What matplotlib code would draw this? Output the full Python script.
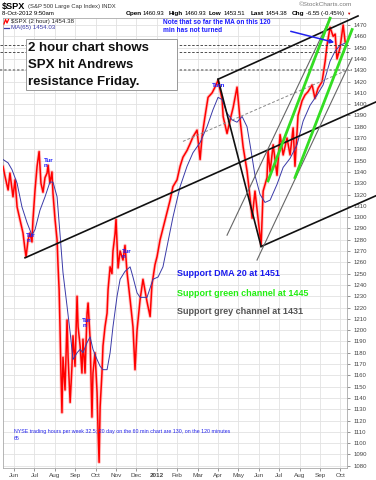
import matplotlib
matplotlib.use('Agg')
import matplotlib.pyplot as plt
from matplotlib.lines import Line2D
from matplotlib.patches import Rectangle

plt.rcParams['font.family'] = ['Liberation Sans', 'DejaVu Sans']

# x values are months counted from 1 Jun 2011
month_labels = ['Jun', 'Jul', 'Aug', 'Sep', 'Oct', 'Nov', 'Dec', '2012', 'Feb', 'Mar',
                'Apr', 'May', 'Jun', 'Jul', 'Aug', 'Sep', 'Oct']
y_ticks = list(range(1080, 1471, 10))

# $SPX 2 hour price path
price_x = [-0.54, -0.44, -0.29, -0.20, -0.05, 0.05, 0.15, 0.29, 0.44, 0.54, 0.59, 0.69, 0.78, 0.88,
           0.93, 1.03, 1.13, 1.23, 1.32, 1.42, 1.52, 1.62, 1.67, 1.76, 1.86, 1.91, 2.01, 2.11,
           2.16, 2.21, 2.25, 2.30, 2.35, 2.40, 2.50, 2.60, 2.65, 2.75, 2.84, 2.89, 2.99, 3.09,
           3.14, 3.24, 3.33, 3.38, 3.48, 3.58, 3.63, 3.73, 3.82, 3.87, 3.97, 4.07, 4.12, 4.17,
           4.22, 4.31, 4.36, 4.46, 4.56, 4.61, 4.71, 4.80, 4.85, 4.95, 5.00, 5.10, 5.20, 5.34,
           5.44, 5.54, 5.69, 5.83, 5.93, 6.03, 6.18, 6.32, 6.52, 6.67, 6.76, 6.91, 7.01, 7.16,
           7.30, 7.50, 7.65, 7.79, 7.99, 8.14, 8.28, 8.48, 8.63, 8.77, 8.97, 9.12, 9.22, 9.36,
           9.51, 9.71, 9.85, 10.00, 10.20, 10.25, 10.44, 10.59, 10.74, 10.93, 11.08, 11.23, 11.42,
           11.57, 11.67, 11.81, 11.96, 12.11, 12.21, 12.40, 12.45, 12.55, 12.70, 12.89, 13.04,
           13.19, 13.38, 13.53, 13.68, 13.77, 13.92, 14.12, 14.26, 14.41, 14.61, 14.75, 14.90,
           15.10, 15.25, 15.34, 15.49, 15.64, 15.74, 15.83, 15.98, 16.13, 16.23]
price_y = [1345, 1336, 1324, 1339, 1318, 1333, 1309, 1298, 1286, 1271, 1265, 1280, 1286, 1278,
           1298, 1324, 1345, 1358, 1330, 1322, 1335, 1339, 1346, 1330, 1340, 1321, 1298, 1280,
           1256, 1236, 1206, 1162, 1127, 1176, 1147, 1209, 1176, 1136, 1168, 1195, 1168, 1230,
           1203, 1186, 1162, 1192, 1162, 1215, 1224, 1192, 1123, 1162, 1180, 1145, 1110, 1083,
           1132, 1162, 1186, 1203, 1215, 1236, 1256, 1250, 1270, 1285, 1298, 1255, 1270, 1262,
           1275, 1251, 1227, 1203, 1165, 1200, 1227, 1245, 1225, 1212, 1240, 1258, 1265, 1280,
           1290, 1304, 1315, 1327, 1333, 1345, 1353, 1359, 1365, 1371, 1377, 1351, 1372, 1389,
           1406, 1410, 1415, 1421, 1404, 1389, 1374, 1386, 1397, 1415, 1386, 1362, 1341,
           1317, 1299, 1323, 1299, 1275, 1323, 1335, 1359, 1340, 1364, 1337, 1373,
           1355, 1370, 1355, 1379, 1345, 1390, 1403, 1408, 1411, 1417, 1405, 1414,
           1420, 1438, 1452, 1468, 1460, 1462, 1440, 1450, 1470, 1455]

# MA(65)
ma_x = [-0.54, -0.29, -0.10, 0.15, 0.39, 0.64, 0.88, 1.03, 1.27, 1.52, 1.76, 1.91, 2.11, 2.25,
        2.40, 2.60, 2.75, 2.89, 3.09, 3.24, 3.38, 3.58, 3.73, 3.87, 4.07, 4.22, 4.36, 4.56,
        4.71, 4.85, 5.05, 5.20, 5.44, 5.69, 5.83, 6.03, 6.18, 6.52, 6.81, 7.06, 7.30, 7.50,
        7.79, 8.14, 8.48, 8.77, 9.12, 9.46, 9.75, 10.00, 10.20, 10.44, 10.69, 10.93, 11.18,
        11.42, 11.57, 11.81, 12.06, 12.30, 12.55, 12.89, 13.19, 13.53, 13.87, 14.17, 14.51,
        14.85, 15.15, 15.49, 15.74, 15.98, 16.23]
ma_y = [1351, 1348, 1342, 1330, 1309, 1295, 1284, 1289, 1306, 1318, 1331, 1331, 1318, 1286,
        1251, 1221, 1198, 1174, 1180, 1183, 1180, 1189, 1194, 1183, 1174, 1168, 1165, 1165,
        1180, 1203, 1230, 1245, 1252, 1256, 1247, 1233, 1229, 1229, 1245, 1247, 1256, 1274,
        1300, 1327, 1345, 1357, 1366, 1380, 1395, 1406, 1404, 1392, 1386, 1384, 1389,
        1380, 1364, 1337, 1320, 1313, 1315, 1329, 1344, 1352, 1364, 1385, 1399,
        1408, 1417, 1438, 1447, 1452, 1454]

# drawn trend lines: (x0, y0, x1, y1)
black_lines = [(0.54, 1264, 17.75, 1402), (10.0, 1422, 16.86, 1478),
               (10.0, 1422, 12.11, 1274), (12.11, 1274, 17.75, 1319)]
grey_lines = [(10.44, 1284, 15.49, 1476), (11.91, 1262, 16.57, 1441)]
green_lines = [(12.45, 1332, 15.49, 1476), (13.77, 1335, 16.57, 1466)]
median_line = (8.28, 1367, 16.57, 1432)
dashed_levels = [1452, 1446]
dotted_level = 1430

# "Turn" marks: (x, y, text)
turn_marks = [(1.47, 1352, 'Tur\nn'), (0.6, 1286, 'Tur\nn'), (3.35, 1211, 'Tur\nn'),
              (5.27, 1272, 'Tur\nn'), (9.68, 1419, 'Turn')]

W, H = 376, 480
fig = plt.figure(figsize=(W / 100, H / 100), dpi=100)


def fx(x):
    return x / W


def fy(y):
    return 1 - y / H


ax = fig.add_axes([fx(3), fy(468), fx(347) - fx(3), (468 - 18) / H])
ax.set_xlim(-0.54, 16.32)
ax.set_ylim(1078, 1476.2)

ax.set_yticks(y_ticks)
ax.yaxis.tick_right()
ax.set_xticks(range(len(month_labels)))
ax.set_xticklabels(month_labels)
ax.get_xticklabels()[7].set_fontweight('bold')
ax.tick_params(axis='y', labelsize=4.3, length=2, width=0.4, pad=2.5, colors='#444444')
ax.tick_params(axis='x', labelsize=4.6, length=2, width=0.4, pad=1.5, colors='#444444')
ax.grid(color='#e2e2e2', lw=0.6)
ax.set_axisbelow(True)
for s in ax.spines.values():
    s.set_color('#aaaaaa')
    s.set_linewidth(0.6)

# price + MA
ax.plot(price_x, price_y, color='#ff9090', lw=2.4, alpha=0.5, zorder=2)
ax.plot(price_x, price_y, color='#ff0000', lw=1.1, zorder=3)
ax.plot(ma_x, ma_y, color='#3a3aa8', lw=0.7, zorder=4)

# levels
for lv in dashed_levels:
    ax.plot([-0.69, 16.47], [lv, lv], color='#333333', lw=0.6, ls=(0, (3, 2)), clip_on=False, zorder=5)
ax.plot([-0.69, 16.57], [dotted_level, dotted_level], color='#999999', lw=1.4, ls=(0, (1.2, 1)),
        clip_on=False, zorder=5)

x0, y0, x1, y1 = median_line
ax.plot([x0, x1], [y0, y1], color='#888888', lw=0.7, ls=(0, (3, 2)), zorder=5)
for x0, y0, x1, y1 in black_lines:
    ax.plot([x0, x1], [y0, y1], color='#111111', lw=1.2, clip_on=False, zorder=6)
for x0, y0, x1, y1 in grey_lines:
    ax.plot([x0, x1], [y0, y1], color='#666666', lw=0.8, clip_on=False, zorder=6)
for x0, y0, x1, y1 in green_lines:
    ax.plot([x0, x1], [y0, y1], color='#33dd22', lw=2.0, clip_on=False, zorder=6)

for tx, ty, t in turn_marks:
    ax.text(tx, ty, t, color='#1a1aff', fontsize=4.5, fontweight='bold', ha='left', va='top',
            linespacing=1.0, zorder=7)

ax.annotate('', xy=(15.83, 1454), xytext=(13.43, 1465), annotation_clip=False,
            arrowprops=dict(arrowstyle='-|>', color='#2222ee', lw=1.1, mutation_scale=6), zorder=8)

# header
fig.text(fx(2), fy(7), '\\$SPX', fontsize=6.6, fontweight='bold', va='center')
fig.text(fx(28), fy(6.5), '(S&P 500 Large Cap Index) INDX', fontsize=4.2, va='center', color='#333333')
fig.text(fx(352), fy(5), '\u00a9StockCharts.com', fontsize=4.6, va='center', ha='right', color='#777777')
fig.text(fx(2), fy(13.5), '8-Oct-2012 9:50am', fontsize=4.3, va='center')
header = [(126, 'Open', True), (143, '1460.93', False), (169, 'High', True), (185, '1460.93', False),
          (209, 'Low', True), (224, '1453.51', False), (251, 'Last', True), (266, '1454.38', False),
          (292, 'Chg', True), (306, '-6.55 (-0.45%)', False)]
for hx, t, b in header:
    fig.text(fx(hx), fy(13.5), t, fontsize=4.6 if b else 4.3, fontweight='bold' if b else 'normal',
             va='center')
fig.text(fx(346.5), fy(13.5), '\u25bc', fontsize=3.2, color='#cc0000', va='center')

# in-plot legend
fig.add_artist(Line2D([fx(4), fx(5.5), fx(7), fx(8.5)], [fy(24), fy(19.5), fy(23), fy(19.5)],
                      color='#ff0000', lw=0.9))
fig.text(fx(11), fy(21.5), '\\$SPX (2 hour) 1454.38', fontsize=4.4, va='center', color='#222222')
fig.add_artist(Line2D([fx(4), fx(9)], [fy(27.5), fy(27.5)], color='#3a3aa8', lw=0.9))
fig.text(fx(11), fy(27.5), 'MA(65) 1454.03', fontsize=4.4, va='center', color='#3a3aa8')

fig.text(fx(163), fy(23), 'Note that so far the MA on this 120', fontsize=4.7, fontweight='bold',
         color='#1a1aff', va='center')
fig.text(fx(163), fy(31), 'min has not turned', fontsize=4.7, fontweight='bold',
         color='#1a1aff', va='center')

# boxed comment
fig.add_artist(Rectangle((fx(26), fy(90)), fx(177) - fx(26), (90 - 39) / H, facecolor='white',
                         edgecolor='#999999', lw=0.7, zorder=10))
for ly, t in [(48, '2 hour chart shows'), (65, 'SPX hit Andrews'), (82, 'resistance Friday.')]:
    t_ = fig.text(fx(28), fy(ly), t, fontsize=9.5, fontweight='bold', va='center', color='#111111')
    t_.set_zorder(11)

fig.text(fx(177), fy(274), 'Support DMA 20 at 1451', fontsize=6.5, fontweight='bold',
         color='#1a1aee', va='center')
fig.text(fx(177), fy(293), 'Support green channel at 1445', fontsize=6.5, fontweight='bold',
         color='#22ee11', va='center')
fig.text(fx(177), fy(311), 'Support grey channel at 1431', fontsize=6.5, fontweight='bold',
         color='#555555', va='center')

fig.text(fx(14), fy(431), 'NYSE trading hours per week 32.5; 20 day on the 60 min chart are 130, '
         'on the 120 minutes', fontsize=3.8, color='#2222ee', va='center')
fig.text(fx(14), fy(438), '65', fontsize=3.8, color='#2222ee', va='center')

fig.savefig('out.png', dpi=100)
